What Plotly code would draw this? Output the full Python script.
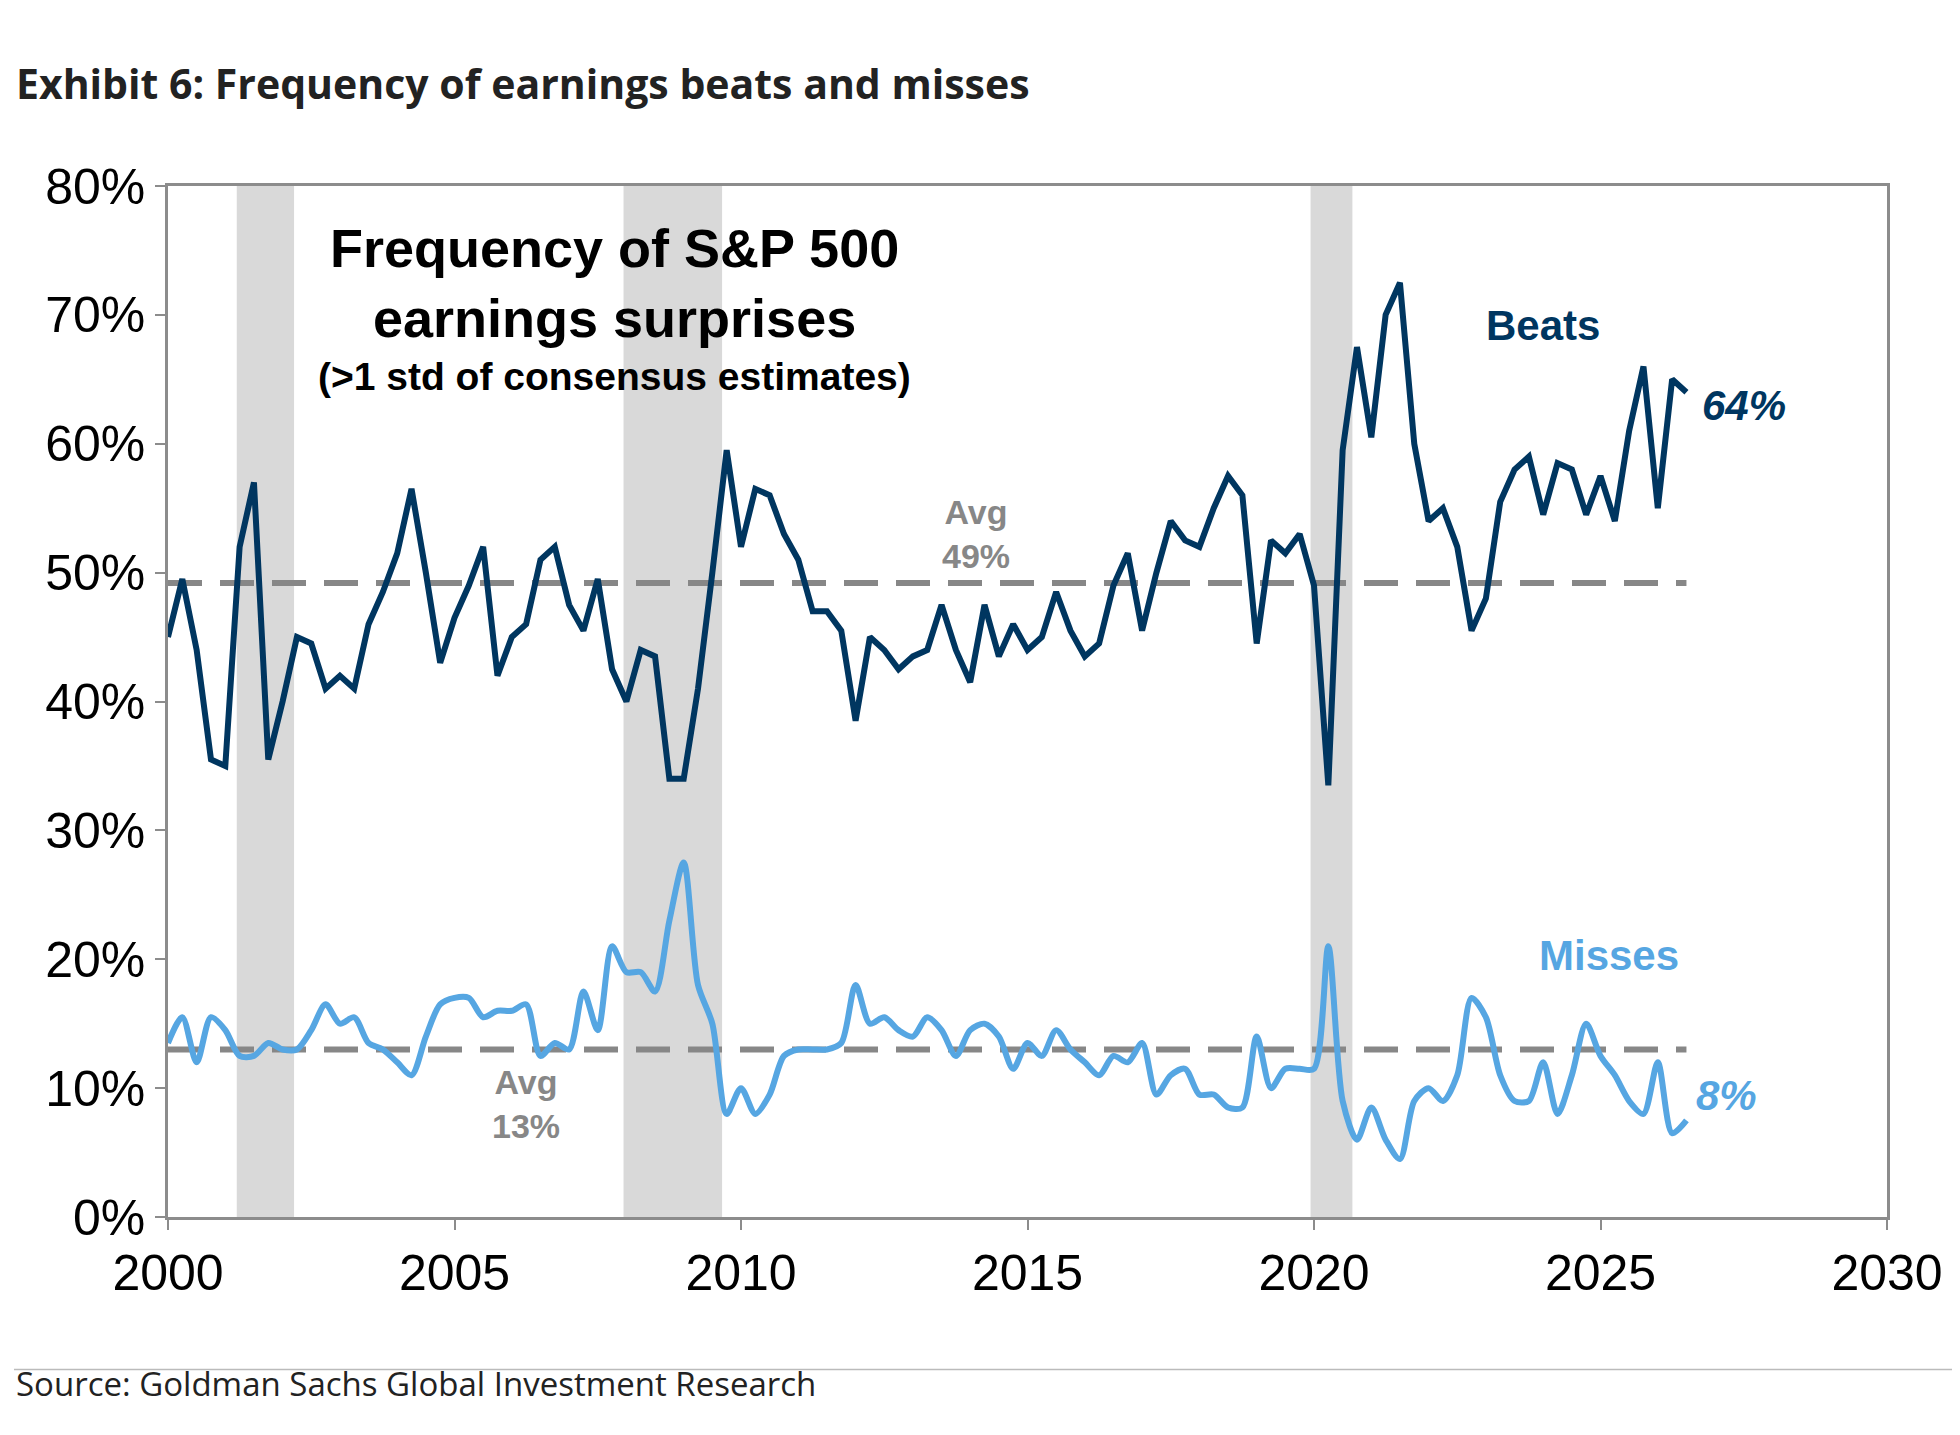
import plotly.graph_objects as go

# quarterly observations, 2000Q1 .. 2026Q3
beats = [45, 49.5, 44, 35.5, 35, 52, 57, 35.5, 40, 45, 44.5, 41, 42, 41, 46, 48.5,
         51.5, 56.5, 50, 43, 46.5, 49, 52, 42, 45, 46, 51, 52, 47.5, 45.5, 49.5, 42.5,
         40, 44, 43.5, 34, 34, 41, 50, 59.5, 52, 56.5, 56, 53, 51, 47, 47, 45.5,
         38.5, 45, 44, 42.5, 43.5, 44, 47.5, 44, 41.5, 47.5, 43.5, 46, 44, 45, 48.5, 45.5,
         43.5, 44.5, 49, 51.5, 45.5, 50, 54, 52.5, 52, 55, 57.5, 56, 44.5, 52.5, 51.5, 53,
         49, 33.5, 59.5, 67.5, 60.5, 70, 72.5, 60, 54, 55, 52, 45.5, 48, 55.5, 58, 59,
         54.5, 58.5, 58, 54.5, 57.5, 54, 61, 66, 55, 65, 64]
misses = [13.5, 15.5, 12, 15.5, 14.5, 12.5, 12.5, 13.5, 13, 13, 14.5, 16.5, 15, 15.5, 13.5, 13,
          12, 11, 14, 16.5, 17, 17, 15.5, 16, 16, 16.5, 12.5, 13.5, 13, 17.5, 14.5, 21,
          19, 19, 17.5, 23, 27.5, 18, 15, 8, 10, 8, 9.5, 12.5, 13, 13, 13, 13.5,
          18, 15, 15.5, 14.5, 14, 15.5, 14.5, 12.5, 14.5, 15, 14, 11.5, 13.5, 12.5, 14.5, 13,
          12, 11, 12.5, 12, 13.5, 9.5, 11, 11.5, 9.5, 9.5, 8.5, 8.5, 14, 10, 11.5, 11.5,
          11.5, 21, 9, 6, 8.5, 6, 4.5, 9, 10, 9, 11, 17, 15.5, 11, 9, 9,
          12, 8, 11, 15, 12.5, 11, 9, 8, 12, 6.5, 7.5]
quarters = [2000 + i / 4 for i in range(len(beats))]
beats_avg = 49.2
misses_avg = 13
recessions = [(2001.2, 2002.2), (2007.95, 2009.67), (2019.94, 2020.67)]

navy = "#003660"
light = "#56A6E2"
grey = "#878787"

fig = go.Figure()
for a, b in recessions:
    fig.add_vrect(x0=a, x1=b, fillcolor="#D9D9D9", line_width=0, layer="below")

for avg in (beats_avg, misses_avg):
    fig.add_trace(go.Scatter(x=[quarters[0], quarters[-1]], y=[avg] * 2, mode="lines",
                             line=dict(color=grey, width=6, dash="34px,18px")))
fig.add_trace(go.Scatter(x=quarters, y=beats, mode="lines", line=dict(color=navy, width=6)))
fig.add_trace(go.Scatter(x=quarters, y=misses, mode="lines",
                         line=dict(color=light, width=6, shape="spline", smoothing=0.8)))

lab = "Liberation Sans"
def note(x, y, text, size, color, **kw):
    fig.add_annotation(x=x, y=y, text=text, showarrow=False,
                       font=dict(family=lab, size=size, color=color), **kw)

note(2007.8, 72.5, "<b>Frequency of S&P 500<br>earnings surprises</b>", 54, "black")
note(2007.8, 65.2, "<b>(>1 std of consensus estimates)</b>", 39, "black")
note(2024.0, 69.2, "<b>Beats</b>", 42, navy)
note(2027.5, 63.0, "<b><i>64%</i></b>", 42, navy)
note(2025.15, 20.3, "<b>Misses</b>", 42, light)
note(2027.2, 9.4, "<b><i>8%</i></b>", 42, light)
note(2014.1, 53.0, "<b>Avg<br>49%</b>", 34, grey)
note(2006.25, 8.8, "<b>Avg<br>13%</b>", 34, grey)

fig.add_annotation(xref="paper", yref="paper", x=-0.0896, y=1.129, xanchor="left",
                   text="<b>Exhibit 6: Frequency of earnings beats and misses</b>",
                   showarrow=False, font=dict(family="Open Sans", size=41, color="#222"))
fig.add_annotation(xref="paper", yref="paper", x=-0.0896, y=-0.185, xanchor="left",
                   text="Source: Goldman Sachs Global Investment Research",
                   showarrow=False, font=dict(family="Open Sans", size=33, color="#222"))
fig.add_shape(type="line", xref="paper", yref="paper", x0=-0.0896, x1=1.047, y0=-0.148, y1=-0.148,
              line=dict(color="#BBBBBB", width=1.5))

axis = dict(showgrid=False, zeroline=False, showline=True, linecolor="#8C8C8C", linewidth=2.5,
            mirror=True, ticks="outside", tickcolor="#8C8C8C", ticklen=10, tickwidth=2,
            tickfont=dict(family=lab, size=50, color="black"))
fig.update_xaxes(range=[2000, 2030], dtick=5, **axis)
fig.update_yaxes(range=[0, 80], dtick=10, ticksuffix="%", **axis)
fig.update_layout(width=1960, height=1435, showlegend=False, plot_bgcolor="white",
                  paper_bgcolor="white", margin=dict(l=160, r=81, t=178, b=226))
fig.write_html("out.html")
